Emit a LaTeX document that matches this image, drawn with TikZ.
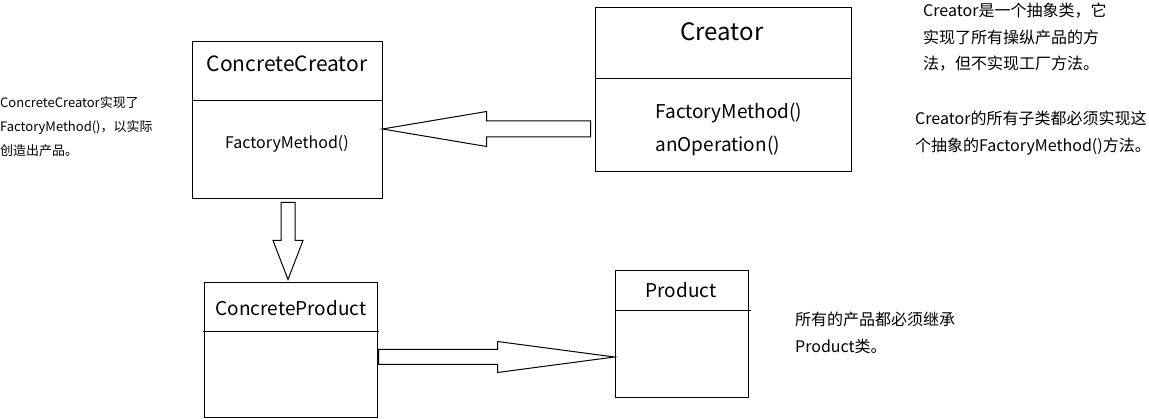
\documentclass[tikz,border=0pt]{standalone}
\usepackage{fontspec}
\setmainfont{Noto Sans CJK SC}
\usetikzlibrary{calc}

% hollow block arrow from #1 (tail) to #2 (tip):
% #3 shaft half width, #4 head half width, #5 head length
\newcommand{\blockarrow}[5]{%
  \draw[line width=1pt, line join=miter]
    ($(#1)!#3!-90:(#2)$) --
    ($($(#2)!#5!(#1)$)!#3!-90:(#2)$) --
    ($($(#2)!#5!(#1)$)!#4!-90:(#2)$) --
    (#2) --
    ($($(#2)!#5!(#1)$)!#4!90:(#2)$) --
    ($($(#2)!#5!(#1)$)!#3!90:(#2)$) --
    ($(#1)!#3!90:(#2)$) -- cycle;}

\begin{document}
\begin{tikzpicture}[x=1pt, y=-1pt,
  classbox/.style={draw, line width=1pt, inner sep=0pt},
  divider/.style={line width=1pt},
  note/.style={align=left, inner sep=0pt, anchor=base west}]
\useasboundingbox (0,0) rectangle (1149,419);

% class boxes
\node[classbox, minimum width=256pt, minimum height=164pt] (creator) at (723,90) {};
\node[classbox, minimum width=190pt, minimum height=157pt] (cc) at (287,120.5) {};
\node[classbox, minimum width=173pt, minimum height=135pt] (cp) at (290.5,350.5) {};
\node[classbox, minimum width=133pt, minimum height=127pt] (product) at (681.5,334.5) {};

% compartment dividers
\draw[divider] (creator.west |- 0,79) -- (creator.east |- 0,79);
\draw[divider] (cc.west |- 0,101) -- (cc.east |- 0,101);
\draw[divider] ($(cp.west |- 0,332)+(-1,0)$) -- ($(cp.east |- 0,332)+(1,0)$);
\draw[divider] (product.west |- 0,311) -- ($(product.east |- 0,311)+(2,0)$);

% class names and operations
\node[font=\fontsize{24}{28}\selectfont] (creatorname) at (722,32) {Creator};
\node[font=\fontsize{19}{22}\selectfont, anchor=west] (creatorop1) at (652,113) {FactoryMethod()};
\node[font=\fontsize{19}{22}\selectfont, anchor=west] (creatorop2) at (652,146) {anOperation()};
\node[font=\fontsize{21}{24}\selectfont] (ccname) at (287,64) {ConcreteCreator};
\node[font=\fontsize{16}{18}\selectfont] (ccop) at (287,144) {FactoryMethod()};
\node[font=\fontsize{19}{22}\selectfont] (cpname) at (291,308) {ConcreteProduct};
\node[font=\fontsize{19}{22}\selectfont] (productname) at (681,290) {Product};

% generalisation arrows
\coordinate (a1tail) at ($(creator.west |- 0,129)+(-4,0)$);
\coordinate (a1tip) at (cc.east |- 0,129);
\blockarrow{a1tail}{a1tip}{8pt}{17.5pt}{104pt}
\coordinate (a2tail) at ($(cc.south -| 288,0)+(0,3)$);
\coordinate (a2tip) at ($(cp.north -| 288,0)+(0,-3)$);
\blockarrow{a2tail}{a2tip}{7pt}{15pt}{39pt}
\coordinate (a3tail) at ($(cp.east |- 0,357)+(1,0)$);
\coordinate (a3tip) at (product.west |- 0,357);
\blockarrow{a3tail}{a3tip}{7.5pt}{15.5pt}{117pt}

% notes (anchored at the baseline of their last line)
\node[note, font=\fontsize{13}{24}\selectfont] (ccnote) at (0,156)
  {ConcreteCreator实现了\\FactoryMethod()，以实际\\创造出产品。};
\node[note, font=\fontsize{16}{26.5}\selectfont] (creatornote) at (923,70)
  {Creator是一个抽象类，它\\实现了所有操纵产品的方\\法，但不实现工厂方法。};
\node[note, font=\fontsize{16}{27}\selectfont] (subnote) at (915,152)
  {Creator的所有子类都必须实现这\\个抽象的FactoryMethod()方法。};
\node[note, font=\fontsize{16}{27}\selectfont] (productnote) at (795,353)
  {所有的产品都必须继承\\Product类。};
\end{tikzpicture}
\end{document}
